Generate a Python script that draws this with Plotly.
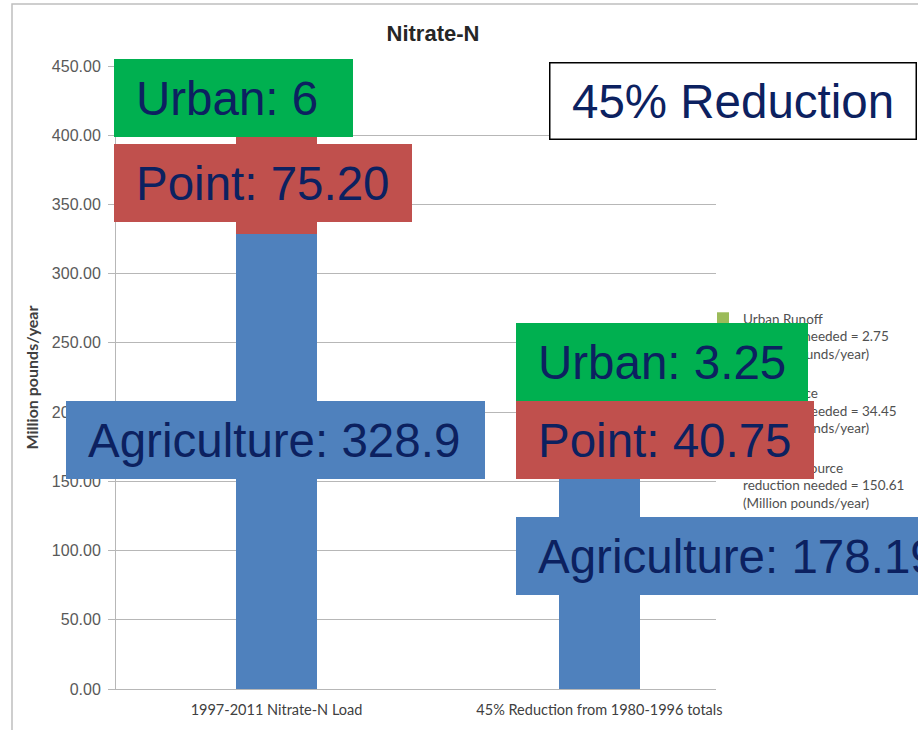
import plotly.graph_objects as go

# ---------------- data ----------------
categories = ["1997-2011 Nitrate-N Load", "45% Reduction from 1980-1996 totals"]
cat_pos = [0, 1]
nonpoint_load = [328.9, 178.19]   # Agriculture / Nonpoint Source
point_load = [75.20, 40.75]       # Point Source
urban_load = [6, 3.25]            # Urban Runoff
series_names = ["Nonpoint Source", "Point Source", "Urban Runoff"]
reduction_needed = ["150.61", "34.45", "2.75"]
series_colors = ["#4F81BD", "#C0504D", "#9BBB59"]
legend_ranks = [3, 2, 1]
y_tick_vals = [0, 50, 100, 150, 200, 250, 300, 350, 400, 450]

callout_labels = {
    "urban_1": "Urban: 6",
    "point_1": "Point: 75.20",
    "agri_1": "Agriculture: 328.9",
    "urban_2": "Urban: 3.25",
    "point_2": "Point: 40.75",
    "agri_2": "Agriculture: 178.19",
    "headline": "45% Reduction",
}

# ---------------- layout geometry (pixels) ----------------
W, H = 918, 730
L, R, T, B = 116, 716, 66, 689


def px(x):
    return (x - L) / (R - L)


def py(y):
    return (B - y) / (B - T)


fig = go.Figure()
for vals, name, red, col, rank in zip([nonpoint_load, point_load, urban_load],
                                      series_names, reduction_needed, series_colors,
                                      legend_ranks):
    fig.add_trace(go.Bar(
        x=cat_pos, y=vals, width=0.25,
        name=f"{name}<br>reduction needed = {red}<br>(Million pounds/year)",
        legendgroup=name, legendrank=rank,
        marker=dict(color=col, line=dict(width=0)),
        hoverinfo="skip",
    ))

# callout boxes: (key, left, top, right, bottom, fill, border)
boxes = [
    ("urban_1", 114, 59, 353, 136.7, "#00B050", None),
    ("point_1", 114, 144, 412, 221.7, "#C0504D", None),
    ("agri_1", 66, 400.7, 485, 478.7, "#4F81BD", None),
    ("urban_2", 516, 323, 808, 401, "#00B050", None),
    ("point_2", 516, 401, 814, 479, "#C0504D", None),
    ("agri_2", 516, 517, 960, 594.7, "#4F81BD", None),
    ("headline", 549, 62, 917, 140, "#FFFFFF", "#000000"),
]

annotations = []
for key, l, t, r, b, fill, border in boxes:
    annotations.append(dict(
        xref="paper", yref="paper", x=px(l), y=py(t),
        xanchor="left", yanchor="top", showarrow=False,
        width=(r - l) - (3 if border else 0), height=(b - t) - (3 if border else 0),
        bgcolor=fill, borderpad=0,
        borderwidth=1.5 if border else 0,
        bordercolor=border if border else "rgba(0,0,0,0)",
        text="",
    ))
for key, l, t, r, b, fill, border in boxes:
    pad = 22 if key == "headline" else 21
    annotations.append(dict(
        xref="paper", yref="paper", x=px(l + pad), y=py((t + b) / 2 + 0.5),
        xanchor="left", yanchor="middle", showarrow=False, borderpad=0,
        text=callout_labels[key],
        font=dict(family="Liberation Sans, Arial", size=47.5, color="#0C2160"),
    ))

fig.update_layout(
    width=W, height=H,
    margin=dict(l=L, r=W - R, t=T, b=H - B, autoexpand=False),
    paper_bgcolor="white", plot_bgcolor="white",
    barmode="stack",
    showlegend=True,
    title=dict(text="<b>Nitrate-N</b>", xref="paper", x=px(433), xanchor="center",
               yref="container", y=1 - 33.5 / H, yanchor="middle",
               font=dict(family="Liberation Sans, Arial", size=22, color="#262626")),
    legend=dict(x=px(703), y=py(303), xanchor="left", yanchor="top",
                traceorder="grouped", tracegroupgap=19, valign="top",
                bgcolor="rgba(0,0,0,0)",
                font=dict(family="Lato", size=13.5, color="#505050")),
    xaxis=dict(range=[-0.497, 1.361], tickvals=cat_pos, ticktext=categories,
               showgrid=False, zeroline=False, showline=True, linecolor="#B7B7B7",
               linewidth=1, ticks="", ticklabelstandoff=8,
               tickfont=dict(family="Lato", size=14.5, color="#404040")),
    yaxis=dict(range=[0, 450], tickvals=y_tick_vals, tickformat=".2f",
               showgrid=True, gridcolor="#B7B7B7", gridwidth=1, zeroline=False,
               showline=True, linecolor="#B7B7B7", linewidth=1,
               ticks="outside", ticklen=7, tickcolor="#B7B7B7", ticklabelstandoff=4,
               tickfont=dict(family="Liberation Sans, Arial", size=16, color="#595959"),
               title=dict(text="<b>Million pounds/year</b>", standoff=9,
                          font=dict(family="Lato", size=16, color="#404040"))),
    annotations=annotations,
    shapes=[dict(type="rect", xref="paper", yref="paper", layer="below",
                 x0=px(12), x1=px(1000), y0=py(760), y1=py(4),
                 line=dict(color="#BFBFBF", width=1.5), fillcolor="rgba(0,0,0,0)")],
)

fig.write_html(
    "out.html",
    config={"displayModeBar": False},
    post_script="document.body.style.margin='0';document.body.style.overflow='hidden';",
)
